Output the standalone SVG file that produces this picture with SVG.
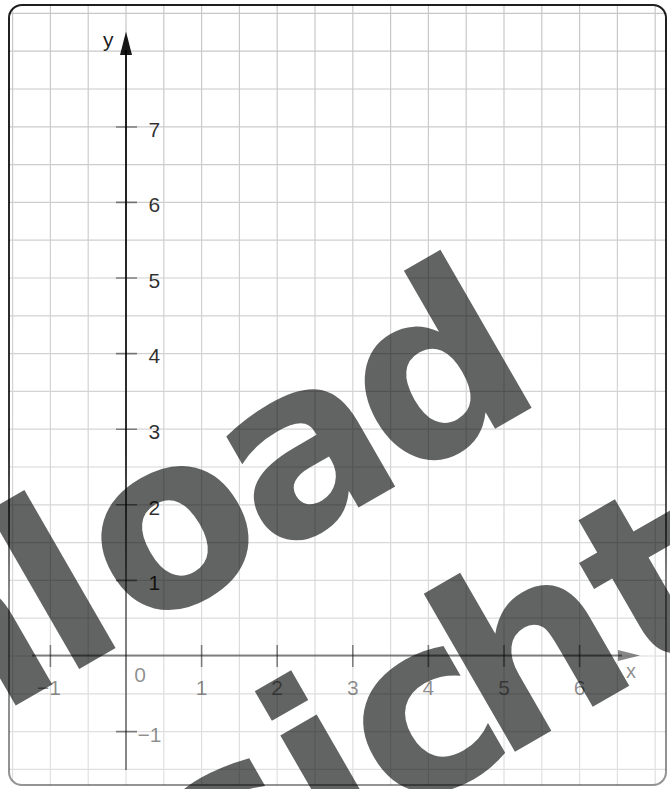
<svg xmlns="http://www.w3.org/2000/svg" width="670" height="789" viewBox="0 0 670 789">
  <defs>
    <linearGradient id="ink" gradientUnits="userSpaceOnUse" x1="0" y1="0" x2="0" y2="789">
      <stop offset="0" stop-color="#000" stop-opacity="0.88"/>
      <stop offset="0.57" stop-color="#000" stop-opacity="0.8"/>
      <stop offset="0.75" stop-color="#000" stop-opacity="0.47"/>
      <stop offset="1" stop-color="#000" stop-opacity="0.42"/>
    </linearGradient>
    <linearGradient id="gridInk" gradientUnits="userSpaceOnUse" x1="0" y1="0" x2="0" y2="789">
      <stop offset="0" stop-color="#000" stop-opacity="0.22"/>
      <stop offset="1" stop-color="#000" stop-opacity="0.12"/>
    </linearGradient>
    <clipPath id="frameClip">
      <rect x="9" y="5" width="657" height="780" rx="13"/>
    </clipPath>
    <style>
      .wm { font-family: "DejaVu Sans", "Verdana", sans-serif; font-weight: bold; font-size: 240px; fill: #626463; }
      .grid { fill: none; stroke: url(#gridInk); stroke-width: 1.2; }
      .tick { fill: none; stroke: #000; stroke-opacity: 0.45; stroke-width: 1.6; }
      .lbl { font-family: "Liberation Sans", Arial, sans-serif; font-size: 21px; }
      .ylbl { fill: #000; fill-opacity: 0.82; }
      .xlbl { fill: #000; fill-opacity: 0.46; text-anchor: middle; }
    </style>
  </defs>

  <rect x="0" y="0" width="670" height="789" fill="#fff"/>

  <g id="watermark">
    <g transform="translate(79 669) rotate(-30)">
      <text class="wm" x="-183 -20 66 222 371" y="0">nload</text>
    </g>
    <g transform="translate(223.8 919.8) rotate(-30)">
      <text class="wm" x="-20 121 201 316 483" y="0">sicht</text>
    </g>
  </g>

  <g id="grid" clip-path="url(#frameClip)">
    <path class="grid" d="M12.6 5V785M50.4 5V785M88.2 5V785M126 5V785M163.8 5V785M201.6 5V785M239.4 5V785M277.2 5V785M315 5V785M352.8 5V785M390.6 5V785M428.4 5V785M466.2 5V785M504 5V785M541.8 5V785M579.6 5V785M617.4 5V785M655.2 5V785
      M9 13.4H666M9 51.2H666M9 89H666M9 126.8H666M9 164.6H666M9 202.4H666M9 240.2H666M9 278H666M9 315.8H666M9 353.6H666M9 391.4H666M9 429.2H666M9 467H666M9 504.8H666M9 542.6H666M9 580.4H666M9 618.2H666M9 656H666M9 693.8H666M9 731.6H666M9 769.4H666"/>
  </g>

  <g id="frame">
    <rect x="9" y="5" width="657" height="780" rx="13" fill="none" stroke="url(#ink)" stroke-width="2"/>
  </g>

  <g id="y-axis">
    <line x1="126" y1="50" x2="126" y2="770" stroke="url(#ink)" stroke-width="2"/>
    <polygon points="126,31.5 120,55 132,55" fill="#000" fill-opacity="0.9"/>
    <path class="tick" d="M116 127H137M116 202.4H137M116 278H137M116 353.6H137M116 429.2H137M116 504.8H137M116 580.4H137M116 731.6H137"/>
    <text class="lbl" x="103" y="46.5" fill="#000" fill-opacity="0.9" font-size="20">y</text>
    <g class="lbl ylbl">
      <text x="148.5" y="136.8">7</text>
      <text x="148.5" y="212.3">6</text>
      <text x="148.5" y="287.9">5</text>
      <text x="148.5" y="363.4">4</text>
      <text x="148.5" y="439">3</text>
      <text x="148.5" y="514.6">2</text>
      <text x="148.5" y="590.2">1</text>
    </g>
    <text class="lbl" x="137.5" y="742" fill="#000" fill-opacity="0.46">−1</text>
  </g>

  <g id="x-axis">
    <line x1="32" y1="655.5" x2="622" y2="655.5" stroke="#000" stroke-opacity="0.47" stroke-width="2"/>
    <polygon points="640,655.5 618,650 618,661" fill="#000" fill-opacity="0.47"/>
    <path class="tick" d="M50.4 645V667M201.6 645V667M277.2 645V667M352.8 645V667M428.4 645V667M504 645V667M579.6 645V667"/>
    <g class="lbl xlbl">
      <text x="49" y="694.5">−1</text>
      <text x="140" y="682">0</text>
      <text x="201.6" y="694.5">1</text>
      <text x="277.2" y="694.5">2</text>
      <text x="352.8" y="694.5">3</text>
      <text x="428.4" y="694.5">4</text>
      <text x="504" y="694.5">5</text>
      <text x="579.6" y="694.5">6</text>
      <text x="631" y="678" font-size="20">x</text>
    </g>
  </g>
</svg>
